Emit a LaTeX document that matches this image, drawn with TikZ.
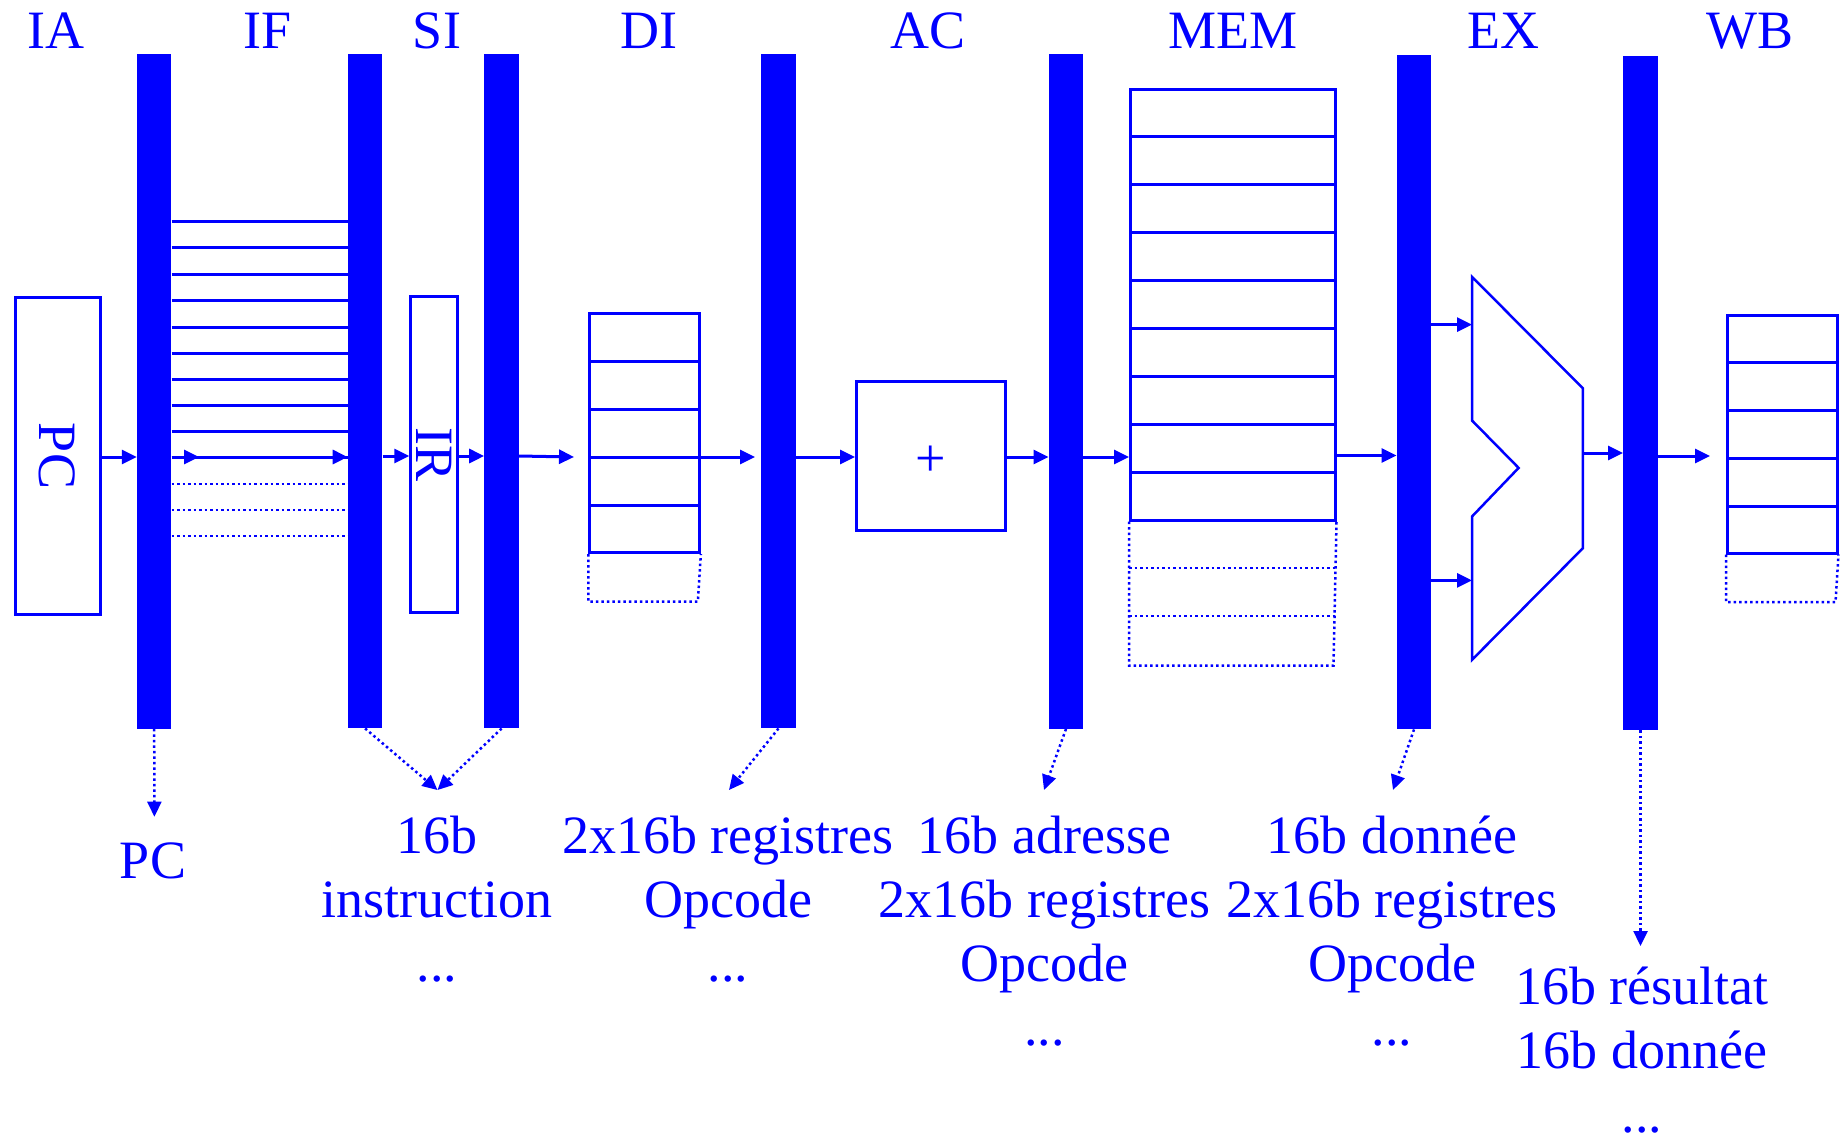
\documentclass[tikz,border=0pt]{standalone}
\usepackage{fontspec}
\setmainfont{Liberation Serif}
\usetikzlibrary{arrows.meta}
\definecolor{bl}{RGB}{0,0,255}
\begin{document}
\begin{tikzpicture}[x=1pt,y=-1pt,
  every node/.style={text=bl, font=\fontsize{54}{64}\selectfont},
  bar/.style={fill=bl, inner sep=0pt, minimum width=34.5pt, minimum height=674.5pt},
  regbox/.style={draw=bl, line width=3pt, inner sep=0pt},
  lin/.style={draw=bl, line width=3pt},
  dotl/.style={draw=bl, line width=2.5pt, dash pattern=on 2.5pt off 3pt},
  arr/.style={draw=bl, line width=3pt, -{Triangle[length=15pt,width=14pt]}},
  darr/.style={draw=bl, line width=2.5pt, dash pattern=on 2.5pt off 3pt, -{Triangle[length=15pt,width=14pt]}},
  lbl/.style={anchor=base, align=center}]
\useasboundingbox (0,0) rectangle (1846,1141);

% stage labels
\foreach \t/\x in {IA/56,IF/268,SI/437,DI/649,AC/928,MEM/1233,EX/1503,WB/1750}
  \node[anchor=base] (lab\t) at (\x,48) {\t};

% pipeline registers
\node[bar] (b1) at (154.2,391.5) {};
\node[bar] (b2) at (365.1,391) {};
\node[bar] (b3) at (501.6,391) {};
\node[bar] (b4) at (778.5,391) {};
\node[bar] (b5) at (1066,391.5) {};
\node[bar] (b6) at (1414,392) {};
\node[bar] (b7) at (1640.5,393) {};

% PC and IR
\node[regbox, rotate=-90, minimum width=317pt, minimum height=85pt] (pc) at (57.6,456) {PC};
\node[regbox, rotate=-90, minimum width=316pt, minimum height=47pt] (ir) at (434.3,454.7) {IR};

% IF instruction queue
\foreach \y in {221,247.5,274,300.5,327,353,379,405,431,457}
  \draw[lin] (b1.east |- 0,\y) -- (b2.west |- 0,\y);
\foreach \y in {484,510,536}
  \draw[dotl] (b1.east |- 0,\y) -- (b2.west |- 0,\y);
\coordinate (ifa) at (199,457);
\coordinate (ifb) at (318,457);
\draw[arr] (pc.north |- 0,457) -- (b1.west |- 0,457);
\draw[arr] (b1.east |- 0,457) -- (ifa);
\draw[arr] (ifb) -- (b2.west |- 0,457);
\draw[arr] (b2.east |- 0,456) -- (ir.south |- 0,456);
\draw[arr] (ir.north |- 0,456) -- (b3.west |- 0,456);

% DI register file
\node[regbox, minimum width=109.5pt, minimum height=239pt] (di) at (644.6,433) {};
\foreach \y in {361,409,457,505}
  \draw[lin] (di.west |- 0,\y) -- (di.east |- 0,\y);
\draw[dotl] (di.south west) -- ++(0,47.5) -- ++(109.5,0) -- (di.south east);
\coordinate (diin) at (574,457);
\draw[arr] (b3.east |- 0,456) -- (diin);
\draw[arr, shorten >=6pt] (di.east |- 0,457) -- (b4.west |- 0,457);

% AC adder
\node[regbox, minimum width=149pt, minimum height=149pt, text height=40pt, text depth=0pt] (add) at (931,456) {+};
\draw[arr] (b4.east |- 0,457) -- (add.west |- 0,457);
\draw[arr] (add.east |- 0,457) -- (b5.west |- 0,457);

% MEM
\node[regbox, minimum width=204.5pt, minimum height=431pt] (mem) at (1232.75,304.5) {};
\foreach \y in {136.5,184.5,232.5,280.5,328.5,376.5,424.5,472.5}
  \draw[lin] (mem.west |- 0,\y) -- (mem.east |- 0,\y);
\draw[dotl] (mem.south west) -- ++(0,144) -- ++(204.5,0) -- (mem.south east);
\foreach \y in {568,616}
  \draw[dotl] (mem.west |- 0,\y) -- (mem.east |- 0,\y);
\draw[arr] (b5.east |- 0,457) -- (mem.west |- 0,457);
\draw[arr] (mem.east |- 0,455.5) -- (b6.west |- 0,455.5);

% EX ALU
\draw[draw=bl, line width=2.5pt, line join=miter] (1472,276.8) -- (1582.9,388.4) -- (1582.9,548.2) -- (1472,659.8)
  -- (1472,516.5) -- (1518.6,467.9) -- (1472,420.5) -- cycle;
\coordinate (aluA) at (1472,324.6);
\coordinate (aluB) at (1472,580.4);
\coordinate (aluO) at (1583,453);
\draw[arr] (b6.east |- aluA) -- (aluA);
\draw[arr] (b6.east |- aluB) -- (aluB);
\draw[arr] (aluO) -- (b7.west |- aluO);

% WB register file
\node[regbox, minimum width=109.5pt, minimum height=238pt] (wb) at (1782.25,434) {};
\foreach \y in {362,410,458,506}
  \draw[lin] (wb.west |- 0,\y) -- (wb.east |- 0,\y);
\draw[dotl] (wb.south west) -- ++(0,47.5) -- ++(109.5,0) -- (wb.south east);
\coordinate (wbin) at (1710,456);
\draw[arr] (b7.east |- 0,456) -- (wbin);

% bottom annotations
\coordinate (t1) at (154.4,816.7);
\coordinate (t2) at (437.5,790);
\coordinate (t4) at (729,790);
\coordinate (t5) at (1044,790);
\coordinate (t6) at (1393,790);
\coordinate (t7) at (1640.5,946);
\draw[darr] (b1.south) -- (t1);
\draw[darr] (b2.south) -- (t2);
\draw[darr] (b3.south) -- (t2);
\draw[darr] (b4.south) -- (t4);
\draw[darr] (b5.south) -- (t5);
\draw[darr] (b6.south) -- (t6);
\draw[darr] (b7.south) -- (t7);

% anchor=base of a multi-line node is the baseline of its last line
\node[lbl] (l1) at (153,878) {PC};
\node[lbl] (l2) at (437,981) {16b\\instruction\\...};
\node[lbl] (l4) at (728,981) {2x16b registres\\Opcode\\...};
\node[lbl] (l5) at (1044.5,1045) {16b adresse\\2x16b registres\\Opcode\\...};
\node[lbl] (l6) at (1392,1045) {16b donnée\\2x16b registres\\Opcode\\...};
\node[lbl] (l7) at (1642,1132) {16b résultat\\16b donnée\\...};
\end{tikzpicture}
\end{document}
